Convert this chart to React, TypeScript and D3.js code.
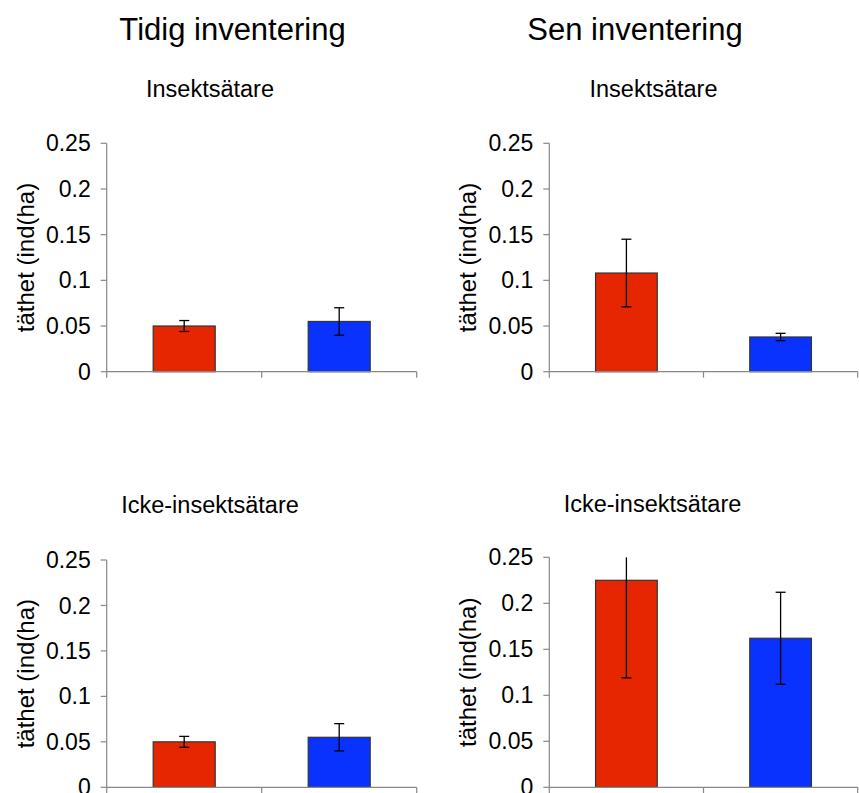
import * as d3 from "d3";

const columnTitles = ["Tidig inventering", "Sen inventering"];
const rowTitles = ["Insektsätare", "Icke-insektsätare"];
const groups = ["röd", "blå"];
const groupColors = ["#e52600", "#0a32ff"];

// mean density per group, [red, blue]
const earlyInsect = [0.05, 0.055];
const earlyInsectErr = [0.006, 0.015];
const lateInsect = [0.108, 0.038];
const lateInsectErr = [0.037, 0.004];
const earlyOther = [0.05, 0.055];
const earlyOtherErr = [0.006, 0.015];
const lateOther = [0.225, 0.162];
const lateOtherErr = [0.106, 0.05];

const yTicks = [0, 0.05, 0.1, 0.15, 0.2, 0.25];
const yTickLabels = ["0", "0.05", "0.1", "0.15", "0.2", "0.25"];
const yLabel = "täthet (ind(ha)";

const font = "'Liberation Sans', Arial, Helvetica, sans-serif";

type PanelProps = {
  values: number[];
  errors: number[];
  left: number;
  right: number;
  top: number;
  bottom: number;
  subtitle: string;
  subtitleX: number;
  subtitleY: number;
  labelX: number;
};

function Panel({ values, errors, left, right, top, bottom, subtitle, subtitleX, subtitleY, labelX }: PanelProps) {
  const x = d3.scaleBand(groups, [left, right]).paddingInner(0.6).paddingOuter(0.3);
  const y = d3.scaleLinear([0, 0.25], [bottom, top]);
  const half = (right - left) / 2;
  const xTicks = [left, left + half, right];
  return (
    <g fontFamily={font}>
      <text x={subtitleX} y={subtitleY} textAnchor="middle" fontSize={23.5}>
        {subtitle}
      </text>
      <text
        transform={`translate(${labelX},${(top + bottom) / 2}) rotate(-90)`}
        textAnchor="middle"
        fontSize={24}
      >
        {yLabel}
      </text>
      {groups.map((g, i) => (
        <rect
          key={g}
          x={x(g)}
          y={y(values[i])}
          width={x.bandwidth()}
          height={y(0) - y(values[i])}
          fill={groupColors[i]}
          stroke="#333"
          strokeWidth={1.2}
        />
      ))}
      <g stroke="#000" strokeWidth={1.3}>
        {groups.map((g, i) => {
          const cx = x(g)! + x.bandwidth() / 2;
          const hi = values[i] + errors[i];
          const lo = values[i] - errors[i];
          const yHi = y(Math.min(hi, 0.25));
          return (
            <g key={g}>
              <line x1={cx} x2={cx} y1={yHi} y2={y(lo)} />
              {hi <= 0.25 && <line x1={cx - 5} x2={cx + 5} y1={yHi} y2={yHi} />}
              <line x1={cx - 5} x2={cx + 5} y1={y(lo)} y2={y(lo)} />
            </g>
          );
        })}
      </g>
      <g stroke="#888" strokeWidth={1.2}>
        <line x1={left} x2={left} y1={y(0.25)} y2={y(0)} />
        <line x1={left} x2={right} y1={y(0)} y2={y(0)} />
        {yTicks.map((t) => (
          <line key={t} x1={left - 6} x2={left} y1={y(t)} y2={y(t)} />
        ))}
        {xTicks.map((t) => (
          <line key={t} x1={t} x2={t} y1={y(0)} y2={y(0) + 6} />
        ))}
      </g>
      {yTicks.map((t, i) => (
        <text key={t} x={left - 16} y={y(t)} dy="0.35em" textAnchor="end" fontSize={23}>
          {yTickLabels[i]}
        </text>
      ))}
    </g>
  );
}

export default function App() {
  return (
    <svg
      width={859}
      height={793}
      style={{ position: "absolute", left: 0, top: 0, background: "#fff" }}
    >
      <text x={232.5} y={40} textAnchor="middle" fontSize={31} fontFamily={font}>
        {columnTitles[0]}
      </text>
      <text x={635} y={40} textAnchor="middle" fontSize={31} fontFamily={font}>
        {columnTitles[1]}
      </text>
      <Panel
        values={earlyInsect}
        errors={earlyInsectErr}
        left={106.7}
        right={416.7}
        top={143.3}
        bottom={371.7}
        subtitle={rowTitles[0]}
        subtitleX={210}
        subtitleY={97}
        labelX={34}
      />
      <Panel
        values={lateInsect}
        errors={lateInsectErr}
        left={549.3}
        right={857.7}
        top={143.3}
        bottom={371.7}
        subtitle={rowTitles[0]}
        subtitleX={653.5}
        subtitleY={97}
        labelX={476}
      />
      <Panel
        values={earlyOther}
        errors={earlyOtherErr}
        left={106.7}
        right={416.7}
        top={560}
        bottom={787.3}
        subtitle={rowTitles[1]}
        subtitleX={210}
        subtitleY={513}
        labelX={34}
      />
      <Panel
        values={lateOther}
        errors={lateOtherErr}
        left={549.3}
        right={857.7}
        top={557.3}
        bottom={787.3}
        subtitle={rowTitles[1]}
        subtitleX={652.5}
        subtitleY={512}
        labelX={476}
      />
    </svg>
  );
}
